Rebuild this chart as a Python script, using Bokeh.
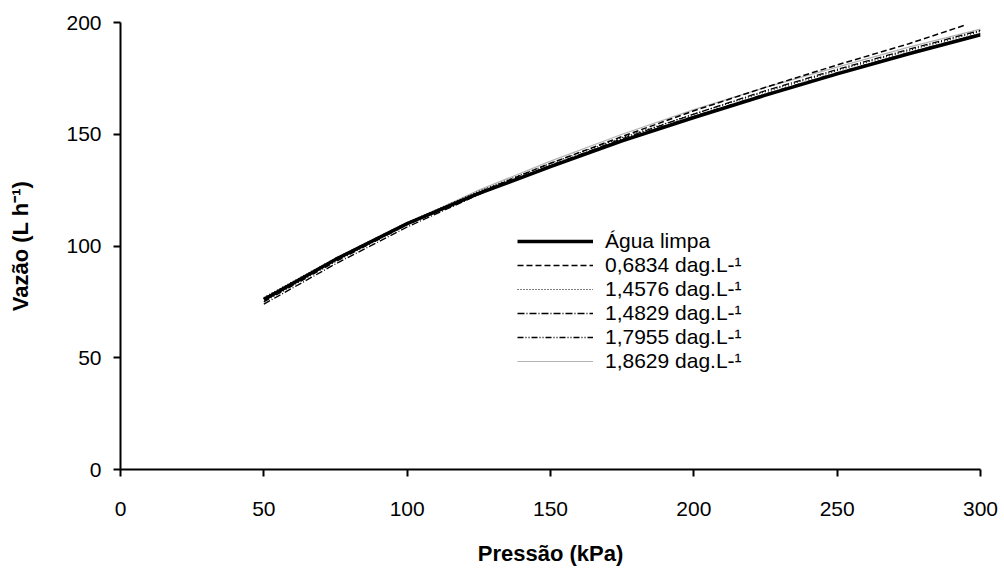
from bokeh.plotting import figure
from bokeh.models import Range1d, FixedTicker, Legend, LegendItem
from bokeh.embed import file_html
from bokeh.resources import INLINE

# Data (pressure kPa, flow L/h)
p_agua = [50, 75, 100, 125, 150, 175, 200, 225, 250, 275, 300]
q_agua = [76, 94, 110, 123.5, 135.5, 147, 157.5, 167.5, 177, 186, 194.5]

p_0683 = [50, 75, 100, 125, 150, 175, 200, 225, 250, 275, 295]
q_0683 = [76.5, 94, 110, 124, 137, 149, 160.5, 171, 181, 190.5, 199]

p_1457 = [50, 75, 100, 125, 150, 175, 200, 225, 250, 275, 300]
q_1457 = [77, 94.5, 110.5, 124.5, 137, 148.5, 159, 169, 178.5, 187.5, 196]

p_1482 = [50, 75, 100, 125, 150, 175, 200, 225, 250, 275, 300]
q_1482 = [74, 92, 108.5, 123, 136, 148, 159, 169.5, 179, 188, 196.5]

p_1795 = [50, 75, 100, 125, 150, 175, 200, 225, 250, 275, 300]
q_1795 = [75, 93, 109.5, 123.5, 136, 147.5, 158, 168, 177.5, 186.5, 195]

p_1862 = [50, 75, 100, 125, 150, 175, 200, 225, 250, 275, 300]
q_1862 = [76, 94, 110, 125, 138, 150, 161, 171, 180, 189, 197]

labels = ["Água limpa", "0,6834 dag.L-¹", "1,4576 dag.L-¹",
          "1,4829 dag.L-¹", "1,7955 dag.L-¹", "1,8629 dag.L-¹"]
x_ticks = [0, 50, 100, 150, 200, 250, 300]
y_ticks = [0, 50, 100, 150, 200]

FONT = "Liberation Sans"

p = figure(width=1004, height=572, output_backend="svg", toolbar_location=None,
           x_range=Range1d(0, 300), y_range=Range1d(0, 200),
           min_border_left=120, min_border_right=24, min_border_top=22,
           min_border_bottom=103)
p.outline_line_color = None
p.grid.visible = False
p.background_fill_color = "white"
p.border_fill_color = "white"

for ax in (p.xaxis[0], p.yaxis[0]):
    ax.axis_line_width = 2
    ax.axis_line_color = "black"
    ax.major_tick_line_width = 2
    ax.major_tick_out = 7
    ax.major_tick_in = 0
    ax.minor_tick_line_color = None
    ax.major_label_text_font = FONT
    ax.major_label_text_font_size = "21px"
    ax.major_label_text_color = "black"
    ax.axis_label_text_font = FONT
    ax.axis_label_text_font_size = "22px"
    ax.axis_label_text_font_style = "bold"
    ax.axis_label_text_color = "black"

p.xaxis.ticker = FixedTicker(ticks=x_ticks)
p.yaxis.ticker = FixedTicker(ticks=y_ticks)
p.xaxis.axis_label = "Pressão (kPa)"
p.yaxis.axis_label = "Vazão (L h⁻¹)"
p.xaxis.major_label_standoff = 25
p.xaxis.axis_label_standoff = 22
p.yaxis.major_label_standoff = 12
p.yaxis.axis_label_standoff = 30

r6 = p.line(p_1862, q_1862, line_color="#b4b4b4", line_width=1.2)
r5 = p.line(p_1795, q_1795, line_color="black", line_width=1.3, line_dash="6 2 1 2 1 2")
r4 = p.line(p_1482, q_1482, line_color="black", line_width=1.3, line_dash="7 2 1 2")
r3 = p.line(p_1457, q_1457, line_color="black", line_width=1.2, line_dash="1 2")
r2 = p.line(p_0683, q_0683, line_color="black", line_width=1.5, line_dash="6 3")
r1 = p.line(p_agua, q_agua, line_color="black", line_width=3.5)

items = [LegendItem(label=lab, renderers=[r]) for lab, r in
         zip(labels, [r1, r2, r3, r4, r5, r6])]
legend = Legend(items=items, location=(397, 96))
legend.border_line_color = None
legend.background_fill_alpha = 0
legend.padding = 0
legend.margin = 0
legend.spacing = 0
legend.glyph_width = 76
legend.glyph_height = 24
legend.label_height = 24
legend.label_standoff = 12
legend.label_text_font = FONT
legend.label_text_font_size = "21px"
legend.label_text_color = "black"
p.add_layout(legend, "center")

open("out.html", "w").write(file_html(p, INLINE))
